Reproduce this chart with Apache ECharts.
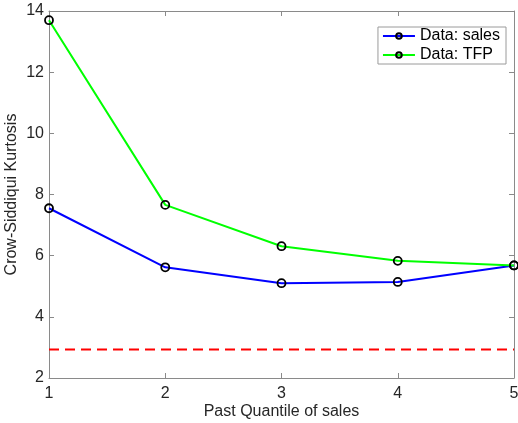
<!DOCTYPE html>
<html><head><meta charset="utf-8">
<script src="https://cdn.jsdelivr.net/npm/echarts@6/dist/echarts.min.js"></script>
<style>html,body{margin:0;padding:0;background:#fff}#c{width:518px;height:423px}</style>
</head><body><div id="c"></div>
<script>
var quantiles = [1, 2, 3, 4, 5];
var salesVals = [7.55, 5.62, 5.10, 5.14, 5.68];
var tfpVals = [13.70, 7.66, 6.31, 5.83, 5.68];
var refVals = [2.93, 2.93, 2.93, 2.93, 2.93];
var xTicks = [1, 2, 3, 4, 5];
var yTicks = [2, 4, 6, 8, 10, 12, 14];

function pairs(v){ return quantiles.map(function(q,i){ return [q, v[i]]; }); }

var font = 'Liberation Sans, Arial, Helvetica, sans-serif';
var axisCol = '#8a8a8a';
var txtCol = '#262626';
var chart = echarts.init(document.getElementById('c'), null, {renderer:'canvas'});
function xa(pos, show){
  return {type:'value', position:pos, min:1, max:5, interval:1,
    axisLine:{show:true, onZero:false, lineStyle:{color:axisCol, width:1}},
    axisTick:{show:true, inside:true, length:5, lineStyle:{color:axisCol}},
    axisLabel:{show:show, color:txtCol, fontSize:16, fontFamily:font, margin:8},
    splitLine:{show:false},
    name: show ? 'Past Quantile of sales' : '', nameLocation:'middle', nameGap:26, nameMoveOverlap:false,
    nameTextStyle:{color:txtCol, fontSize:16, fontFamily:font}};
}
function ya(pos, show){
  return {type:'value', position:pos, min:2, max:14, interval:2,
    axisLine:{show:true, onZero:false, lineStyle:{color:axisCol, width:1}},
    axisTick:{show:true, inside:true, length:5, lineStyle:{color:axisCol}},
    axisLabel:{show:show, color:txtCol, fontSize:16, fontFamily:font, margin:5},
    splitLine:{show:false},
    name: show ? 'Crow-Siddiqui Kurtosis' : '', nameLocation:'middle', nameGap:29, nameMoveOverlap:false,
    nameTextStyle:{color:txtCol, fontSize:16, fontFamily:font}};
}
var sym = {symbol:'circle', symbolSize:8, showSymbol:true,
  itemStyle:{color:'rgba(0,0,0,0)', borderColor:'#000', borderWidth:1.8}};
chart.setOption({
  animation:false,
  backgroundColor:'#fff',
  grid:{left:49, right:4, top:11, bottom:45, outerBoundsMode:'none', containLabel:false},
  xAxis:[xa('bottom', true), xa('top', false)],
  yAxis:[ya('left', true), ya('right', false)],
  legend:{
    right:12, top:27, orient:'vertical', itemGap:3, itemWidth:32, itemHeight:7,
    padding:[1,6,1,4], borderColor:'#9a9a9a', borderWidth:1, backgroundColor:'#fff', borderRadius:0,
    textStyle:{color:'#000', fontSize:16, fontFamily:font, padding:[0,0,0,0]},
    data:['Data: sales','Data: TFP']
  },
  series:[
    Object.assign({name:'Data: sales', type:'line', data:pairs(salesVals),
      lineStyle:{color:'#0000ff', width:2}, z:3}, sym),
    Object.assign({name:'Data: TFP', type:'line', data:pairs(tfpVals),
      lineStyle:{color:'#00ff00', width:2}, z:3}, sym),
    {name:'ref', type:'line', data:pairs(refVals), symbol:'none',
      lineStyle:{color:'#ff0000', width:2, type:[10,6]}, itemStyle:{color:'#ff0000'}, z:2}
  ]
});
</script></body></html>
